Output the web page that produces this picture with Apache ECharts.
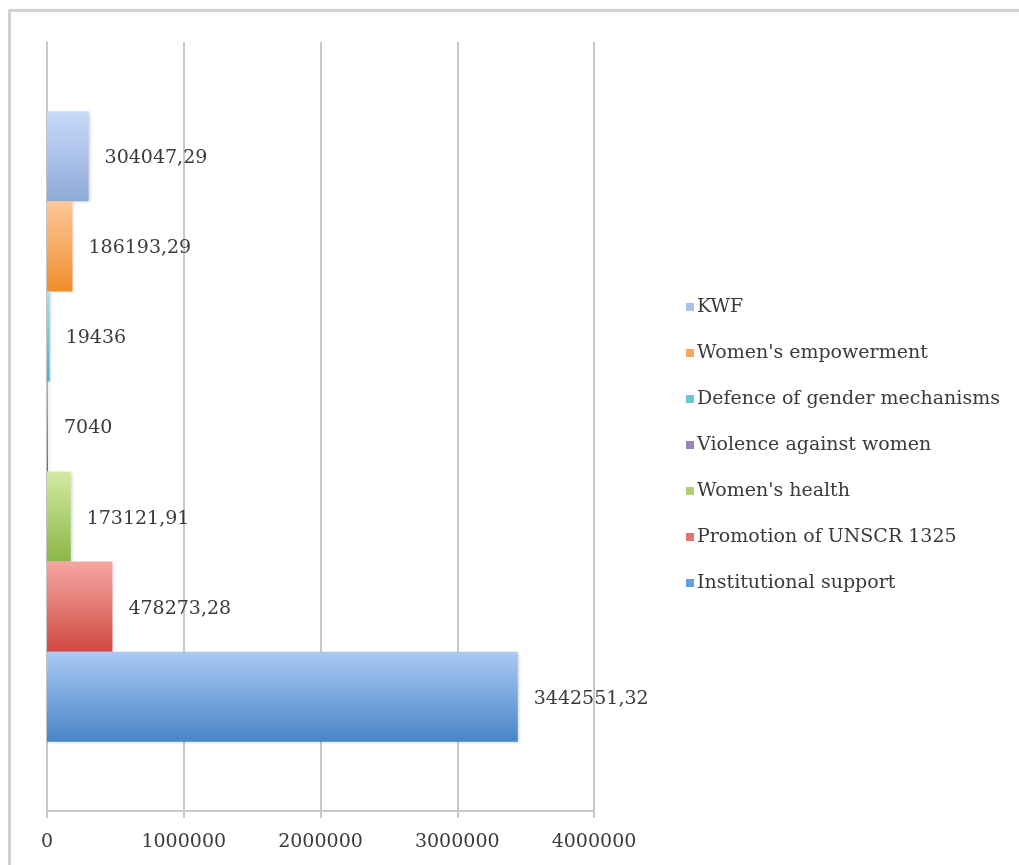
<!DOCTYPE html>
<html>
<head>
<meta charset="utf-8">
<script src="https://cdn.jsdelivr.net/npm/echarts@6/dist/echarts.min.js"></script>
<style>
html,body{margin:0;padding:0;background:#fff;overflow:hidden;}
#frame{position:absolute;left:8px;top:9px;width:1100px;height:1000px;border-left:3px solid #d2d2d2;border-top:3px solid #d2d2d2;box-sizing:border-box;}
#chart{position:absolute;left:0;top:0;width:1019px;height:865px;}
</style>
</head>
<body>
<div id="frame"></div>
<div id="chart"></div>
<script>
var seriesNames = ["KWF", "Women's empowerment", "Defence of gender mechanisms", "Violence against women", "Women's health", "Promotion of UNSCR 1325", "Institutional support"];
var seriesValues = [304047.29, 186193.29, 19436, 7040, 173121.91, 478273.28, 3442551.32];
var valueTicks = [0, 1000000, 2000000, 3000000, 4000000];
var categories = [""];

var gradients = [
  ["#c8dafa", "#8eaad8"],
  ["#fdc89b", "#ef8d2b"],
  ["#a6e2ec", "#45b2c9"],
  ["#bca9d9", "#7659a3"],
  ["#d3eaa3", "#8ab646"],
  ["#f6a6a2", "#d04a42"],
  ["#abcaf4", "#4785c6"]
];
var legendColors = ["#a9c0ea", "#f6a45e", "#6cc6d8", "#9a82c0", "#aed174", "#e27570", "#6a9fdb"];

var chart = echarts.init(document.getElementById('chart'), null, {renderer: 'canvas'});
var serif = "'DejaVu Serif', 'Liberation Serif', serif";
var textColor = '#3a3a3a';

var series = seriesNames.map(function (name, i) {
  return {
    name: name,
    type: 'bar',
    data: [seriesValues[i]],
    barGap: '0%',
    barCategoryGap: '18%',
    itemStyle: {
      color: new echarts.graphic.LinearGradient(0, 0, 0, 1, [
        {offset: 0, color: gradients[i][0]},
        {offset: 1, color: gradients[i][1]}
      ]),
      shadowBlur: 3,
      shadowColor: 'rgba(0,0,0,0.18)',
      shadowOffsetX: 1,
      shadowOffsetY: 1
    },
    label: {
      show: true,
      position: 'right',
      distance: 16,
      fontFamily: serif,
      fontSize: 19,
      color: textColor,
      offset: [0, 2],
      formatter: function (p) { return String(p.value).replace('.', ','); }
    }
  };
});

var option = {
  animation: false,
  backgroundColor: 'transparent',
  legend: {
    orient: 'vertical',
    left: 681,
    top: 292,
    itemWidth: 8,
    itemHeight: 8,
    itemGap: 26,
    icon: 'rect',
    data: seriesNames.map(function (n, i) { return {name: n, itemStyle: {color: legendColors[i]}}; }),
    textStyle: {fontFamily: serif, fontSize: 19, lineHeight: 20, color: textColor, padding: [0, 0, 0, -2]}
  },
  grid: {left: 47, right: 425, top: 42, bottom: 54, containLabel: false},
  xAxis: {
    type: 'value',
    min: valueTicks[0],
    max: valueTicks[valueTicks.length - 1],
    interval: valueTicks[1] - valueTicks[0],
    axisLine: {show: true, lineStyle: {color: '#c8c8c8', width: 2}},
    axisTick: {show: true, length: 7, lineStyle: {color: '#c8c8c8', width: 2}},
    splitLine: {show: true, lineStyle: {color: '#c8c8c8', width: 2}},
    axisLabel: {fontFamily: serif, fontSize: 19, color: textColor, margin: 22,
      formatter: function (v) { return String(v); }}
  },
  yAxis: {
    type: 'category',
    data: categories,
    axisLine: {show: true, lineStyle: {color: '#c8c8c8', width: 2}},
    axisTick: {show: false},
    axisLabel: {show: false}
  },
  series: series
};
chart.setOption(option);
</script>
</body>
</html>
